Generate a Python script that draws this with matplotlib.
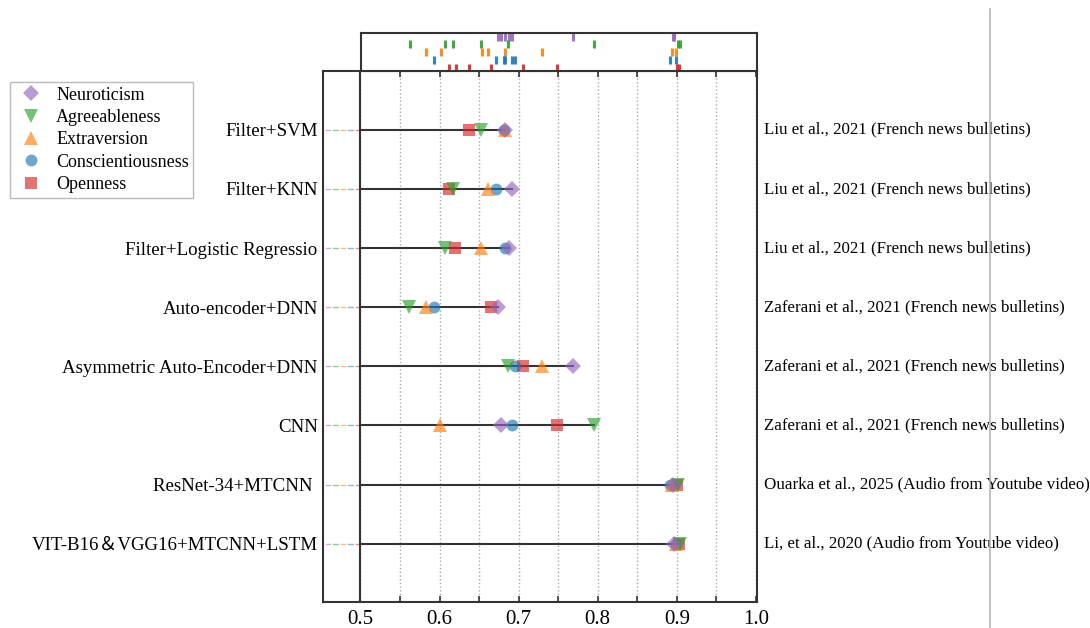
import matplotlib
matplotlib.use('Agg')
import matplotlib.pyplot as plt
from matplotlib.lines import Line2D

# Datos
methods = ['Filter+SVM', 'Filter+KNN', 'Filter+Logistic Regressio', 'Auto-encoder+DNN',
           'Asymmetric Auto-Encoder+DNN', 'CNN', 'ResNet-34+MTCNN ', 'VIT-B16＆VGG16+MTCNN+LSTM']
sources = ['Liu et al., 2021 (French news bulletins)'] * 3 + \
          ['Zaferani et al., 2021 (French news bulletins)'] * 3 + \
          ['Ouarka et al., 2025 (Audio from Youtube video)',
           'Li, et al., 2020 (Audio from Youtube video)']

neuroticism = [0.683, 0.692, 0.688, 0.674, 0.769, 0.678, 0.895, 0.897]
agreeableness = [0.652, 0.617, 0.607, 0.562, 0.686, 0.795, 0.901, 0.904]
extraversion = [0.683, 0.661, 0.653, 0.583, 0.729, 0.601, 0.894, 0.899]
conscientiousness = [0.681, 0.671, 0.683, 0.593, 0.695, 0.692, 0.891, 0.899]
openness = [0.637, 0.612, 0.620, 0.665, 0.705, 0.748, 0.900, 0.903]

traits = ['Neuroticism', 'Agreeableness', 'Extraversion', 'Conscientiousness', 'Openness']
series = [neuroticism, agreeableness, extraversion, conscientiousness, openness]
colors = ['#9467bd', '#2ca02c', '#ff7f0e', '#1f77b4', '#d62728']
markers = ['D', 'v', '^', 'o', 's']
sizes = [8, 9.5, 9.5, 8.5, 8]

major_ticks = [0.5, 0.6, 0.7, 0.8, 0.9, 1.0]
major_labels = ['0.5', '0.6', '0.7', '0.8', '0.9', '1.0']
minor_ticks = [0.55, 0.65, 0.75, 0.85, 0.95]

serif = ['Liberation Serif', 'Noto Sans CJK SC']
plt.rcParams['font.family'] = serif
plt.rcParams['axes.edgecolor'] = '#333333'

fig = plt.figure(figsize=(10.9, 6.28), dpi=100)
ax = fig.add_axes([0.2966, 0.0419, 0.3976, 0.8455])
rug = fig.add_axes([0.3309, 0.8874, 0.3633, 0.060])

xmin, xmax = 0.453, 1.001
rows = list(range(len(methods)))

# lineas horizontales desde 0.5 hasta el maximo de cada fila
for i in rows:
    vmax = max(s[i] for s in series)
    ax.plot([0.5, vmax], [i, i], color='#333333', lw=1.5, zorder=2)
    # guiones de colores entre el borde y 0.5
    step = (0.5 - xmin) / 5
    for k, c in enumerate(colors):
        x0 = xmin + step * k + step * 0.35
        ax.plot([x0, x0 + step * 0.6], [i, i], color=c, lw=1.0, alpha=0.5, zorder=2)

ax.axvline(0.5, color='#333333', lw=1.5, zorder=2)

# puntos (orden inverso para que Neuroticism quede encima)
for name, vals, c, m, ms in reversed(list(zip(traits, series, colors, markers, sizes))):
    ax.plot(vals, rows, linestyle='none', marker=m, markersize=ms, color=c,
            alpha=0.65, markeredgewidth=0, label=name, zorder=3)

ax.set_xlim(xmin, xmax)
ax.set_ylim(len(methods) - 0.02, -1)
ax.set_xticks(major_ticks)
ax.set_xticklabels(major_labels)
ax.set_xticks(minor_ticks, minor=True)
ax.grid(axis='x', which='both', linestyle=':', color='#aaaaaa', lw=1.0, zorder=1)
ax.tick_params(axis='x', which='both', direction='in', top=True, length=4,
               width=1.2, labelsize=15, pad=6, color='#333333')
ax.set_yticks(rows)
ax.set_yticklabels(methods, fontsize=13.6)
ax.tick_params(axis='y', length=0, pad=4)
for sp in ax.spines.values():
    sp.set_linewidth(1.5)

for i, src in enumerate(sources):
    ax.text(1.016, i, src, transform=ax.get_yaxis_transform(), fontsize=12.2,
            va='center', ha='left')

# rug superior
rug_levels = [0.90, 0.71, 0.50, 0.29, 0.08]
for vals, c, lev in zip(series, colors, rug_levels):
    rug.plot(vals, [lev] * len(vals), linestyle='none', marker='|', markersize=6,
             markeredgewidth=2.2, color=c, alpha=0.9)
rug.set_xlim(0.5, xmax)
rug.set_ylim(0, 1)
rug.set_xticks([])
rug.set_yticks([])
for sp in rug.spines.values():
    sp.set_linewidth(1.5)

# leyenda a la izquierda
handles, labels = ax.get_legend_handles_labels()
order = [labels.index(t) for t in traits]
leg = fig.legend([handles[j] for j in order], [labels[j] for j in order],
                 loc='upper left', bbox_to_anchor=(10 / 1090, 1 - 82 / 628),
                 fontsize=13, frameon=True, fancybox=False, borderaxespad=0,
                 labelspacing=0.3, handletextpad=0.5, borderpad=0.25, handlelength=1.8)
leg.get_frame().set_edgecolor('#aaaaaa')
leg.get_frame().set_linewidth(1.0)

# linea gris vertical a la derecha
fig.add_artist(Line2D([990 / 1090, 990 / 1090], [0, 1 - 9 / 628], color='#b5b5b5', lw=1.2))

fig.savefig('out.png', dpi=100)
